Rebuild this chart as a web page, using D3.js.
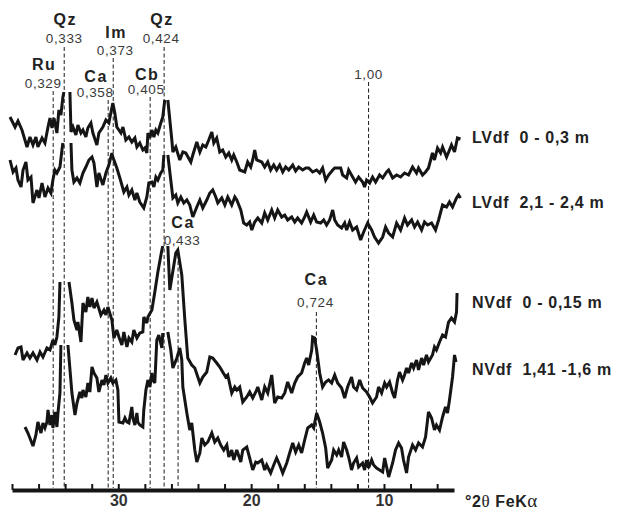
<!DOCTYPE html>
<html>
<head>
<meta charset="utf-8">
<script src="https://cdn.jsdelivr.net/npm/d3@7"></script>
<style>
  body { margin: 0; background: #fff; }
  svg text { font-family: Arial, "Liberation Sans", sans-serif; }
</style>
</head>
<body>
<div id="chart"></div>
<script>
// sample names (right of each trace)
var sampleNames = ["LVdf  0 - 0,3 m", "LVdf  2,1 - 2,4 m", "NVdf  0 - 0,15 m", "NVdf  1,41 -1,6 m"];

// x axis, degrees 2theta Fe K-alpha
var tickValues = [38, 36, 34, 32, 30, 28, 26, 24, 22, 20, 18, 16, 14, 12, 10, 8, 6];
var tickLabels = [30, 20, 10];

// marked reflections: mineral, d-spacing (nm), 2theta
var peakMinerals = ["Ru", "Qz", "Ca", "Im", "Cb", "Qz", "Ca", "Ca", ""];
var peakD = ["0,329", "0,333", "0,358", "0,373", "0,405", "0,424", "0,433", "0,724", "1,00"];
var peakTheta = [34.90, 34.07, 30.76, 30.38, 27.60, 26.55, 25.50, 15.09, 11.16];

// traces: [2theta, intensity (arbitrary, offset)] ; null = clipped peak
var lvdf1 = [[38.15,372],[37.77,362],[37.55,368],[37.25,359],[36.87,342],[36.65,352],[36.42,344],[36.20,352],[36.05,342],[35.74,351],[35.52,346],[35.29,362],[35.14,371],[34.99,361],[34.84,371],[34.62,356],[34.47,379],[34.32,374],[34.17,392],[34.09,397],null,
  [33.64,397],[33.56,357],[33.41,362],[33.19,354],[33.04,364],[32.81,356],[32.66,359],[32.44,352],[32.29,361],[32.06,366],[31.91,356],[31.61,344],[31.46,356],[31.16,362],[30.93,369],[30.71,366],[30.41,386],[30.26,376],[30.11,362],[29.80,356],[29.65,362],[29.43,349],[29.20,352],[28.98,347],[28.75,351],[28.60,342],[28.38,346],[28.15,339],[28.00,341],[27.85,336],[27.77,356],[27.62,351],[27.47,359],[27.32,352],[27.17,359],[27.02,356],[26.80,366],[26.65,372],[26.50,389],null,
  [26.27,389],[25.97,349],[25.89,337],[25.67,342],[25.37,329],[25.14,337],[24.92,336],[24.54,327],[24.39,334],[24.09,347],[23.86,337],[23.64,344],[23.41,342],[23.19,349],[22.96,357],[22.81,346],[22.59,351],[22.36,337],[22.14,339],[21.91,332],[21.68,336],[21.46,329],[21.31,334],[21.08,327],[20.86,319],[20.48,317],[20.26,327],[20.03,322],[19.88,329],[19.73,339],[19.58,329],[19.20,327],[18.98,322],[18.75,327],[18.53,319],[18.30,324],[18.08,319],[17.85,324],[17.62,317],[17.40,322],[17.17,319],[16.87,324],[16.65,318],[16.42,322],[16.12,319],[15.89,321],[15.67,321],[15.37,317],[15.07,319],[14.84,316],[14.62,321],[14.39,309],[14.17,314],[13.86,319],[13.71,321],[13.26,321],[13.11,314],[12.81,311],[12.66,319],[12.36,312],[12.14,307],[11.91,312],[11.61,307],[11.46,302],[11.31,309],[11.08,306],[10.86,312],[10.63,307],[10.33,314],[10.10,311],[9.80,317],[9.65,319],[9.35,311],[9.05,314],[8.75,312],[8.45,316],[8.15,314],[7.85,322],[7.55,316],[7.40,321],[7.10,314],[6.87,317],[6.65,321],[6.35,336],[6.20,329],[5.97,341],[5.74,336],[5.59,342],[5.29,332],[5.07,339],[4.92,344],[4.69,337],[4.47,351],[4.24,350]];

var lvdf2 = [[38.15,329],[37.92,317],[37.70,321],[37.55,309],[37.32,302],[37.17,319],[36.95,327],[36.80,309],[36.57,312],[36.42,286],[36.12,299],[35.97,291],[35.74,306],[35.52,292],[35.29,301],[35.07,296],[34.92,309],[34.77,319],[34.62,316],[34.39,322],[34.24,339],[34.17,346],null,
  [33.56,346],[33.49,319],[33.34,307],[33.11,311],[32.89,306],[32.66,316],[32.44,322],[32.21,329],[31.98,332],[31.83,326],[31.61,302],[31.46,316],[31.16,304],[30.93,316],[30.71,324],[30.48,336],[30.41,332],[30.11,321],[29.88,311],[29.58,297],[29.35,302],[29.20,294],[28.98,299],[28.75,289],[28.60,296],[28.38,287],[28.08,281],[27.85,292],[27.70,306],[27.47,307],[27.32,302],[27.17,312],[27.02,309],[26.80,316],[26.65,319],[26.57,334],null,
  [26.27,334],[26.05,309],[25.89,291],[25.67,294],[25.52,286],[25.29,292],[25.07,286],[24.84,289],[24.62,284],[24.39,272],[24.09,282],[23.86,289],[23.64,281],[23.34,289],[23.11,296],[22.89,299],[22.66,292],[22.51,286],[22.21,291],[21.98,284],[21.76,292],[21.46,284],[21.23,292],[21.08,289],[20.78,279],[20.56,266],[20.33,264],[20.11,267],[19.95,259],[19.73,267],[19.50,271],[19.20,266],[18.98,276],[18.75,269],[18.45,279],[18.23,271],[18.00,279],[17.70,272],[17.47,274],[17.25,269],[16.95,272],[16.72,267],[16.50,271],[16.20,266],[15.97,272],[15.82,277],[15.52,267],[15.29,274],[15.07,267],[14.77,266],[14.54,269],[14.32,264],[14.09,269],[13.86,279],[13.71,269],[13.49,264],[13.19,261],[12.96,266],[12.81,259],[12.59,267],[12.36,259],[12.06,262],[11.76,249],[11.53,257],[11.23,266],[10.93,259],[10.71,252],[10.41,246],[10.10,252],[9.88,262],[9.65,256],[9.35,252],[9.05,266],[8.75,259],[8.45,271],[8.23,264],[7.92,269],[7.70,262],[7.47,267],[7.17,259],[6.95,267],[6.72,264],[6.42,266],[6.12,259],[5.89,269],[5.59,284],[5.29,282],[5.07,287],[4.84,282],[4.54,291],[4.39,294],[4.24,291]];

var nvdf1 = [[37.77,134],[37.55,141],[37.32,142],[37.17,129],[36.87,136],[36.65,131],[36.42,136],[36.12,129],[35.89,137],[35.67,132],[35.37,141],[35.14,139],[34.92,149],[34.77,144],[34.62,152],[34.47,172],[34.39,207],null,
  [33.71,207],[33.49,186],[33.34,169],[33.11,159],[33.04,167],[32.81,147],[32.66,186],[32.44,177],[32.29,192],[32.14,182],[31.98,191],[31.83,181],[31.61,187],[31.31,174],[31.08,179],[30.93,174],[30.78,182],[30.48,169],[30.33,151],[30.11,159],[29.95,152],[29.73,144],[29.58,157],[29.35,142],[29.20,151],[28.98,147],[28.83,159],[28.60,151],[28.38,156],[28.15,157],[28.08,172],[27.85,166],[27.77,172],[27.47,179],[27.25,197],[27.02,217],[26.72,239],[26.65,243],null,
  [26.27,243],[26.12,199],[25.67,236],[25.52,239],[25.22,214],[24.99,169],[24.77,131],[24.47,124],[24.24,121],[23.86,106],[23.64,112],[23.34,117],[23.11,132],[22.89,131],[22.59,126],[22.36,122],[22.14,117],[21.91,112],[21.76,114],[21.46,96],[21.23,102],[21.08,99],[20.86,102],[20.63,87],[20.33,92],[20.11,97],[19.88,91],[19.65,97],[19.50,102],[19.20,89],[18.98,102],[18.75,96],[18.45,114],[18.23,86],[18.00,92],[17.70,91],[17.47,96],[17.25,107],[16.95,96],[16.72,106],[16.50,112],[16.20,116],[15.97,126],[15.82,131],[15.67,124],[15.44,139],[15.37,152],[15.22,151],[15.07,139],[14.84,116],[14.62,102],[14.39,107],[14.17,109],[13.94,106],[13.71,114],[13.49,106],[13.19,101],[12.96,91],[12.74,102],[12.44,112],[12.29,102],[12.06,99],[11.83,109],[11.61,101],[11.31,97],[11.08,92],[10.86,86],[10.56,92],[10.41,102],[10.18,96],[9.95,106],[9.80,102],[9.58,107],[9.35,96],[9.20,91],[8.98,109],[8.83,117],[8.60,109],[8.45,114],[8.30,121],[8.15,116],[7.92,126],[7.77,121],[7.55,129],[7.40,119],[7.17,131],[7.02,124],[6.80,134],[6.65,127],[6.35,134],[6.20,142],[6.05,139],[5.82,147],[5.59,154],[5.37,152],[5.14,167],[4.92,171],[4.69,167],[4.54,177],[4.50,196]];

var nvdf2 = [[37.02,62],[36.80,56],[36.42,43],[36.20,54],[36.05,67],[35.82,56],[35.67,66],[35.52,61],[35.37,67],[35.29,79],[35.14,64],[34.99,74],[34.92,61],[34.77,77],[34.62,62],[34.54,76],[34.39,96],[34.32,144],null,
  [33.79,144],[33.49,96],[33.26,74],[33.11,86],[32.89,97],[32.74,91],[32.66,99],[32.44,92],[32.29,106],[32.14,97],[31.98,122],[31.83,116],[31.61,111],[31.46,97],[31.23,109],[31.08,104],[30.93,114],[30.78,106],[30.56,111],[30.41,106],[30.18,109],[30.03,99],[29.95,67],[29.65,66],[29.50,71],[29.35,67],[29.20,66],[28.98,82],[28.90,71],[28.75,64],[28.60,76],[28.53,67],[28.38,64],[28.15,62],[28.08,79],[27.92,99],[27.77,109],[27.62,102],[27.47,116],[27.40,109],[27.25,106],[27.10,149],[26.95,154],[26.72,141],[26.65,156],null,
  [26.27,157],[26.05,139],[25.89,121],[25.59,131],[25.37,141],[25.22,129],[25.14,102],[24.84,76],[24.62,59],[24.47,66],[24.24,39],[24.09,27],[23.86,36],[23.71,51],[23.49,44],[23.26,47],[22.96,56],[22.74,47],[22.51,51],[22.29,44],[22.06,39],[21.83,44],[21.68,32],[21.46,39],[21.31,29],[21.08,39],[20.78,27],[20.63,39],[20.33,42],[20.11,31],[19.88,19],[19.65,27],[19.50,26],[19.20,29],[18.98,19],[18.83,24],[18.53,16],[18.30,24],[18.08,31],[17.85,24],[17.62,16],[17.32,26],[17.10,36],[16.87,46],[16.65,37],[16.42,44],[16.20,36],[15.97,49],[15.74,61],[15.44,64],[15.29,61],[15.07,76],[14.84,67],[14.62,56],[14.39,41],[14.24,21],[13.94,29],[13.79,39],[13.56,34],[13.41,39],[13.19,32],[13.04,47],[12.81,39],[12.66,32],[12.44,19],[12.29,26],[12.06,31],[11.91,22],[11.61,26],[11.46,19],[11.31,29],[11.16,21],[10.93,29],[10.78,24],[10.56,21],[10.33,19],[10.10,17],[9.95,31],[9.80,22],[9.65,12],[9.35,26],[9.13,39],[8.90,46],[8.68,41],[8.53,29],[8.30,16],[8.15,32],[7.85,44],[7.62,39],[7.40,46],[7.10,42],[6.87,52],[6.65,77],[6.42,71],[6.20,59],[6.05,64],[5.82,59],[5.59,72],[5.37,82],[5.22,76],[5.07,89],[4.84,112],[4.69,134],[4.58,127]];

var traces = [lvdf1, lvdf2, nvdf1, nvdf2];

makePlot();

function makePlot() {
    var svgWidth = 618;
    var svgHeight = 511;

    var svg = d3.select("#chart")
        .append("svg")
        .attr("width", svgWidth)
        .attr("height", svgHeight);

    var xScale = d3.scaleLinear()
        .domain([38, 4.73])
        .range([12, 454]);

    var yScale = d3.scaleLinear()
        .domain([0, 480])
        .range([489, 9]);

    // label layout for the marked reflections
    var labelLayout = [
        {dx: -10, nameY: 70, dY: 88, top: 91},
        {dx: 0, nameY: 25, dY: 43, top: 47},
        {dx: -13, nameY: 82, dY: 97, top: 100},
        {dx: 2, nameY: 38, dY: 55, top: 58},
        {dx: -4, nameY: 80, dY: 94, top: 97},
        {dx: -3, nameY: 25, dY: 43, top: 47},
        {dx: 4, nameY: 228, dY: 245, top: 248},
        {dx: -1, nameY: 285, dY: 307, top: 312},
        {dx: 0, nameY: 0, dY: 79, top: 82}
    ];

    var peaks = peakTheta.map(function(t, i) {
        return {theta: t, mineral: peakMinerals[i], d: peakD[i], lay: labelLayout[i]};
    });

    var peakGroup = svg.append("g");

    peakGroup.selectAll("line")
        .data(peaks)
        .enter()
        .append("line")
        .attr("x1", d => xScale(d.theta))
        .attr("x2", d => xScale(d.theta))
        .attr("y1", d => d.lay.top)
        .attr("y2", 488)
        .attr("stroke", "#1a1a1a")
        .attr("stroke-width", 1)
        .attr("stroke-dasharray", "4,2.5");

    peakGroup.selectAll("text.mineral")
        .data(peaks.filter(d => d.mineral))
        .enter()
        .append("text")
        .attr("class", "mineral")
        .attr("x", d => xScale(d.theta) + d.lay.dx + 1)
        .attr("y", d => d.lay.nameY)
        .attr("text-anchor", "middle")
        .attr("font-size", 16)
        .attr("font-weight", "bold")
        .attr("letter-spacing", 1.6)
        .attr("fill", "#222")
        .text(d => d.mineral);

    peakGroup.selectAll("text.dval")
        .data(peaks)
        .enter()
        .append("text")
        .attr("class", "dval")
        .attr("x", d => xScale(d.theta) + d.lay.dx)
        .attr("y", d => d.lay.dY)
        .attr("text-anchor", "middle")
        .attr("font-size", 13.5)
        .attr("letter-spacing", 0.6)
        .attr("fill", "#3a3a3a")
        .text(d => d.d);

    var line = d3.line()
        .defined(d => d !== null)
        .x(d => xScale(d[0]))
        .y(d => yScale(d[1]));

    svg.append("g")
        .selectAll("path")
        .data(traces)
        .enter()
        .append("path")
        .attr("d", line)
        .attr("fill", "none")
        .attr("stroke", "#151515")
        .attr("stroke-width", 3)
        .attr("stroke-linejoin", "miter")
        .attr("stroke-miterlimit", 3);

    // sample names
    var nameY = [143, 208, 308, 375];
    svg.append("g")
        .selectAll("text")
        .data(sampleNames)
        .enter()
        .append("text")
        .attr("x", 472)
        .attr("y", (d, i) => nameY[i])
        .attr("font-size", 16)
        .attr("font-weight", "bold")
        .attr("letter-spacing", 0.7)
        .attr("fill", "#222")
        .style("white-space", "pre")
        .text(d => d);

    // bottom axis, ticks pointing up
    var bottomAxis = d3.axisBottom(xScale)
        .tickValues(tickValues)
        .tickSizeInner(-6)
        .tickSizeOuter(0)
        .tickPadding(5)
        .tickFormat(d => tickLabels.indexOf(d) >= 0 ? d : "");

    var axisG = svg.append("g")
        .attr("transform", "translate(0, 490)")
        .call(bottomAxis);

    axisG.select(".domain")
        .attr("stroke", "#151515")
        .attr("stroke-width", 4);

    axisG.selectAll(".tick line")
        .attr("stroke", "#151515")
        .attr("stroke-width", 2);

    axisG.selectAll(".tick text")
        .attr("font-family", "Arial, 'Liberation Sans', sans-serif")
        .attr("font-size", 16)
        .attr("font-weight", "bold")
        .attr("fill", "#333");

    var axisTitle = svg.append("text")
        .attr("x", 465)
        .attr("y", 507)
        .attr("font-size", 16)
        .attr("font-weight", "bold")
        .attr("letter-spacing", 0.6)
        .attr("fill", "#222");
    axisTitle.append("tspan").text("°2");
    axisTitle.append("tspan")
        .attr("font-family", "'Liberation Serif', serif")
        .attr("font-weight", "normal")
        .attr("font-size", 17)
        .text("θ");
    axisTitle.append("tspan").text(" FeK");
    axisTitle.append("tspan")
        .attr("font-family", "'Liberation Serif', serif")
        .attr("font-weight", "normal")
        .attr("font-size", 19)
        .text("α");
}
</script>
</body>
</html>
